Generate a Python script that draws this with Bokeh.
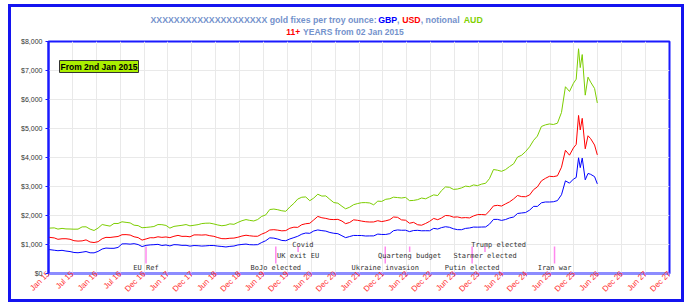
import math
import pandas as pd
from bokeh.plotting import figure
from bokeh.layouts import column
from bokeh.models import Range1d, FixedTicker, NumeralTickFormatter, Label, ColumnDataSource
from bokeh.core.properties import value
from bokeh.embed import file_html
from bokeh.resources import INLINE

# ---------------- data ----------------
START = pd.Timestamp("2015-01-02")

# monthly values (Jan 2015 .. Dec 2025), then finer points for 2026
usd = [
    1251, 1227, 1179, 1198, 1199, 1181, 1131, 1117, 1125, 1159, 1086, 1068,
    1097, 1199, 1246, 1242, 1260, 1276, 1337, 1341, 1326, 1266, 1238, 1152,
    1192, 1234, 1231, 1266, 1246, 1260, 1236, 1283, 1315, 1280, 1283, 1265,
    1331, 1331, 1325, 1335, 1303, 1282, 1238, 1202, 1199, 1215, 1221, 1250,
    1292, 1320, 1301, 1286, 1284, 1359, 1413, 1500, 1511, 1495, 1471, 1480,
    1560, 1597, 1591, 1683, 1716, 1732, 1847, 1968, 1922, 1900, 1866, 1859,
    1867, 1808, 1718, 1760, 1851, 1834, 1807, 1785, 1775, 1777, 1821, 1790,
    1817, 1856, 1948, 1937, 1849, 1837, 1733, 1764, 1681, 1665, 1726, 1798,
    1898, 1855, 1913, 2000, 1992, 1943, 1951, 1918, 1928, 1916, 1985, 2030,
    2034, 2023, 2159, 2331, 2351, 2326, 2399, 2470, 2571, 2690, 2651, 2648,
    2709, 2895, 2984, 3194, 3280, 3352, 3340, 3368, 3665, 4250, 4080, 4330,
    4450, 5450, 4950, 5350, 4300, 4750, 4650, 4430, 4090,
]
gbp = [
    828, 802, 786, 799, 774, 757, 725, 716, 735, 758, 714, 712,
    762, 844, 877, 869, 869, 899, 1021, 1024, 1012, 1029, 998, 929,
    969, 987, 993, 1005, 966, 984, 951, 995, 989, 970, 972, 944,
    964, 958, 946, 954, 965, 964, 945, 932, 915, 935, 947, 984,
    1002, 1015, 993, 989, 995, 1070, 1130, 1230, 1219, 1187, 1140, 1130,
    1191, 1238, 1283, 1357, 1395, 1386, 1466, 1502, 1478, 1462, 1414, 1387,
    1373, 1301, 1236, 1275, 1313, 1310, 1309, 1293, 1296, 1297, 1359, 1346,
    1346, 1375, 1476, 1502, 1491, 1493, 1444, 1482, 1488, 1473, 1475, 1474,
    1556, 1533, 1581, 1613, 1594, 1542, 1512, 1510, 1555, 1570, 1601, 1598,
    1602, 1606, 1700, 1865, 1866, 1831, 1860, 1915, 1948, 2069, 2087, 2102,
    2185, 2316, 2313, 2438, 2466, 2465, 2474, 2513, 2715, 3195, 3115, 3255,
    3310, 3990, 3650, 3980, 3230, 3450, 3420, 3340, 3090,
]
aud = [
    1564, 1573, 1531, 1556, 1537, 1534, 1528, 1530, 1607, 1610, 1530, 1483,
    1567, 1689, 1661, 1634, 1726, 1724, 1783, 1764, 1745, 1666, 1651, 1578,
    1589, 1603, 1620, 1688, 1684, 1658, 1565, 1624, 1644, 1662, 1688, 1643,
    1664, 1685, 1721, 1734, 1737, 1709, 1673, 1647, 1665, 1711, 1696, 1761,
    1820, 1859, 1832, 1811, 1861, 1970, 2019, 2206, 2222, 2199, 2163, 2145,
    2294, 2420, 2566, 2630, 2640, 2510, 2601, 2733, 2669, 2676, 2556, 2446,
    2425, 2318, 2231, 2286, 2373, 2413, 2442, 2445, 2432, 2369, 2495, 2486,
    2559, 2578, 2632, 2618, 2604, 2624, 2512, 2520, 2547, 2602, 2576, 2644,
    2711, 2688, 2855, 2985, 2973, 2900, 2912, 2951, 3013, 2994, 3054, 3030,
    3082, 3112, 3271, 3586, 3562, 3524, 3581, 3687, 3781, 4015, 4078, 4203,
    4369, 4595, 4737, 5070, 5125, 5157, 5138, 5182, 5553, 6440, 6277, 6560,
    6700, 7750, 7100, 7550, 6150, 6770, 6600, 6380, 5880,
]
extra_dates = ["2026-01-05", "2026-01-23", "2026-02-05", "2026-02-20", "2026-03-15",
               "2026-04-05", "2026-04-25", "2026-05-25", "2026-06-15"]

month_dates = [START] + [pd.Timestamp(2015 + i // 12, i % 12 + 1, 15) for i in range(1, 132)]
dates = month_dates + [pd.Timestamp(d) for d in extra_dates]
days = [(d - START).days for d in dates]

tick_labels = ["Jan 15", "Jul 15", "Jan 16", "Jul 16", "Dec 16", "Jun 17", "Dec 17", "Jun 18",
               "Dec 18", "Jun 19", "Dec 19", "Jun 20", "Dec 20", "Jun 21", "Dec 21", "Jun 22",
               "Dec 22", "Jun 23", "Dec 23", "Jun 24", "Dec 24", "Jun 25", "Dec 25", "Jun 26",
               "Dec 26", "Jun 27", "Dec 27"]
tick_step_days = 182
tick_days = [i * tick_step_days for i in range(len(tick_labels))]
y_ticks = [0, 1000, 2000, 3000, 4000, 5000, 6000, 7000, 8000]

events = ["EU Ref", "BoJo elected", "UK exit EU", "Covid", "Ukraine invasion",
          "Quarteng budget", "Putin elected", "Starmer elected", "Trump elected", "Iran war"]
event_dates = ["2017-01-14", "2019-09-30", "2020-03-18", "2020-04-23", "2022-01-11",
               "2022-07-16", "2023-11-04", "2024-02-10", "2024-05-24", "2025-07-24"]
event_rows = [3, 3, 2, 1, 3, 2, 3, 2, 1, 3]

# ---------------- layout geometry (window px) ----------------
BOX_L, BOX_T, BOX_R, BOX_B = 11, 7, 681, 299       # inner edge of the blue box
HEAD_H = 28
FL, FT, FR, FB = 48, 41, 669, 274                  # plot frame edges
CW = BOX_R - BOX_L
MAIN_TOP = BOX_T + HEAD_H
MAIN_H = BOX_B - MAIN_TOP

# ---------------- header (titles) ----------------
head = figure(width=CW, height=HEAD_H, output_backend="svg", toolbar_location=None,
              x_range=Range1d(0, CW), y_range=Range1d(0, HEAD_H),
              x_axis_location=None, y_axis_location=None,
              min_border=0, min_border_left=0, min_border_right=0,
              min_border_top=0, min_border_bottom=0,
              background_fill_color="white", border_fill_color="white")
head.outline_line_color = None
head.xgrid.visible = False
head.ygrid.visible = False

def lab(x, y, text, color, size="8.75px"):
    # header frame is aligned with the main plot frame (left edge at FL)
    head.add_layout(Label(x=x - FL, y=MAIN_TOP - y, x_units="screen", y_units="screen",
                          text=text, text_color=color, text_font="Liberation Sans",
                          text_font_style="bold", text_font_size=size,
                          text_baseline="middle", text_align="left"))

TC = "#7492cc"
lab(150, 19, "XXXXXXXXXXXXXXXXXXXX gold fixes per troy ounce:", TC)
lab(377.7, 19, "GBP", "#0000ff")
lab(396.4, 19, ",", TC)
lab(401.7, 19, "USD", "#ff0000")
lab(420.2, 19, ", notional", TC)
lab(463.3, 19, "AUD", "#80d000")
lab(285.7, 31, "11+", "#ff0000", "8.5px")
lab(302.6, 31, "YEARS from 02 Jan 2015", TC, "8.5px")

# ---------------- main chart ----------------
p = figure(width=CW, height=MAIN_H,
           output_backend="svg", toolbar_location=None,
           x_range=Range1d(0, tick_days[-1]), y_range=Range1d(0, 8000),
           min_border_left=FL - BOX_L, min_border_top=FT - MAIN_TOP,
           min_border_right=BOX_R - FR, min_border_bottom=BOX_B - FB,
           background_fill_color="white", border_fill_color="white")
p.outline_line_color = "#1a1aff"
p.outline_line_width = 2

p.xgrid.grid_line_color = "#e9e9e9"
p.ygrid.grid_line_color = "#e9e9e9"

p.xaxis.ticker = FixedTicker(ticks=tick_days)
p.xaxis.major_label_overrides = {t: l for t, l in zip(tick_days, tick_labels)}
p.xaxis.major_label_orientation = math.pi / 4
p.xaxis.major_label_text_color = "#ff3030"
p.xaxis.major_label_text_font = "Liberation Sans"
p.xaxis.major_label_text_font_size = "8px"
p.xaxis.major_label_text_line_height = 0.6
p.xaxis.axis_line_color = "#8c8cff"
p.xaxis.axis_line_width = 2
p.xaxis.major_tick_line_color = "#8c8cff"
p.xaxis.major_tick_out = 3
p.xaxis.major_tick_in = 0
p.xaxis.minor_tick_line_color = None
p.xaxis.major_label_standoff = -4

p.yaxis.ticker = FixedTicker(ticks=y_ticks)
p.yaxis.formatter = NumeralTickFormatter(format="$0,0")
p.yaxis.major_label_text_color = "#333333"
p.yaxis.major_label_text_font = "Liberation Sans"
p.yaxis.major_label_text_font_size = "7px"
p.yaxis.axis_line_color = "#1a1aff"
p.yaxis.axis_line_width = 2
p.yaxis.major_tick_line_color = "#1a1aff"
p.yaxis.major_tick_out = 3
p.yaxis.major_tick_in = 0
p.yaxis.minor_tick_line_color = None
p.yaxis.major_label_standoff = 3

src = ColumnDataSource(dict(x=days, usd=usd, gbp=gbp, aud=aud))
p.line("x", "aud", source=src, line_color="#7ccd00", line_width=1)
p.line("x", "usd", source=src, line_color="#ff0000", line_width=1)
p.line("x", "gbp", source=src, line_color="#0000ff", line_width=1)

row_text_y = {1: 1000, 2: 600, 3: 205}
row_line_bottom = {1: 930, 2: 740, 3: 345}
ev_x = [(pd.Timestamp(d) - START).days for d in event_dates]
ev_src = ColumnDataSource(dict(
    x=ev_x, text=events,
    ty=[row_text_y[r] for r in event_rows],
    y0=[930 for r in event_rows],
    y1=[row_line_bottom[r] for r in event_rows]))
p.segment(x0="x", x1="x", y0="y0", y1="y1", source=ev_src, line_color="#ff88ee", line_width=1.5)
p.text(x="x", y="ty", text="text", source=ev_src, text_align="center", text_baseline="middle",
       text_font=value("DejaVu Sans Mono"), text_font_size="7px", text_color="#333333")

p.add_layout(Label(x=59 - FL, y=FB - 67, x_units="screen", y_units="screen",
                   text="From 2nd Jan 2015", text_color="black", text_font="Liberation Sans",
                   text_font_style="bold", text_font_size="8.5px", text_baseline="middle",
                   background_fill_color="#aaee00", border_line_color="#333333",
                   border_line_width=1, padding=1))

layout = column(head, p, spacing=0,
                margin=(BOX_T, 690 - BOX_R, 0, BOX_L),
                styles={"outline": "3px solid #1414f0", "background-color": "white",
                        "height": f"{BOX_B - BOX_T}px", "width": f"{CW}px",
                        "overflow": "hidden"})

open("out.html", "w").write(file_html(layout, INLINE))
